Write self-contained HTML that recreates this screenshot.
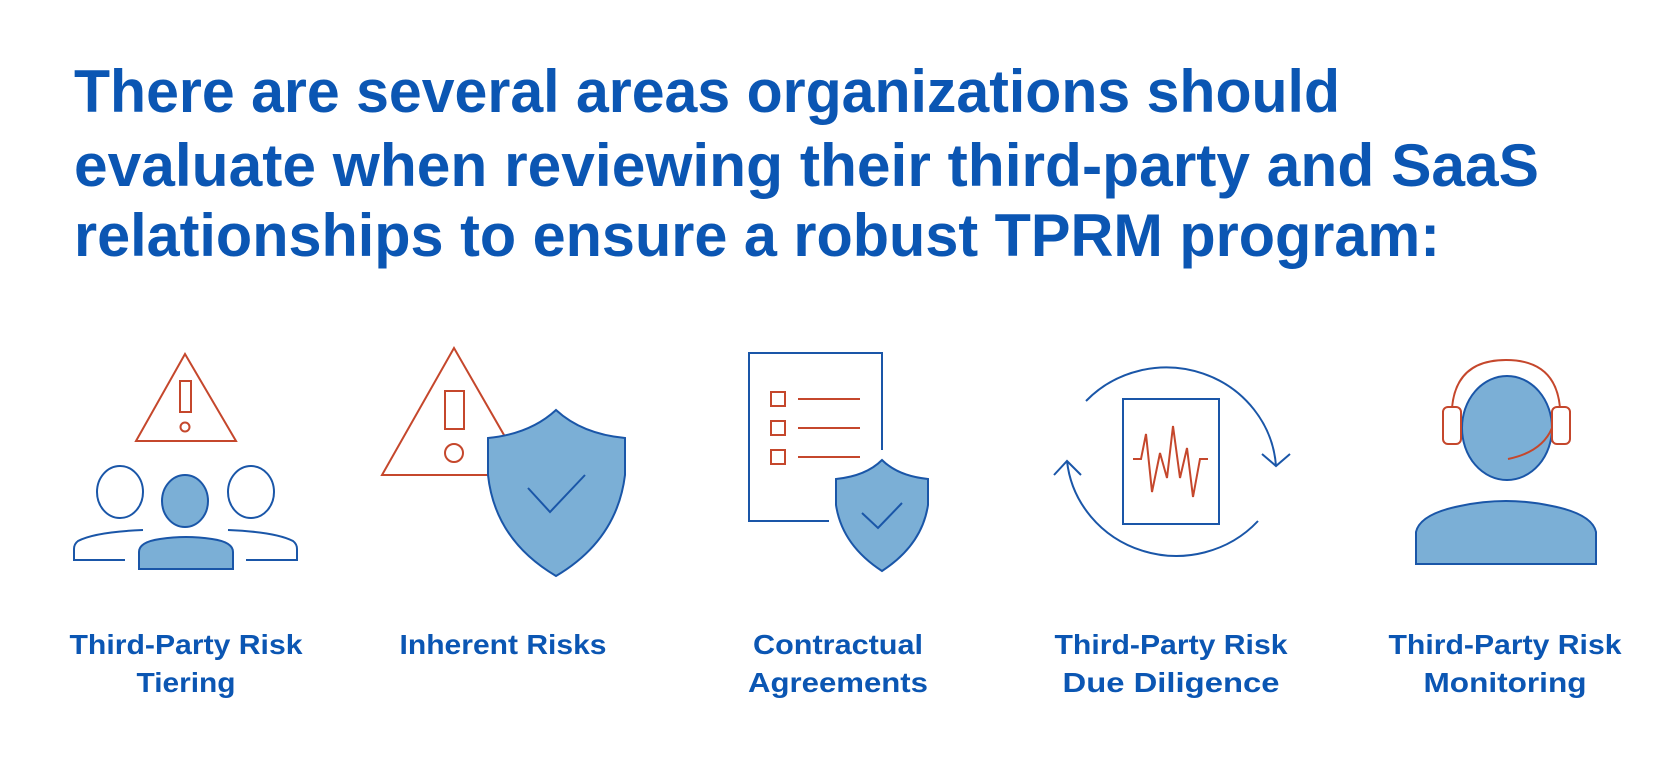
<!DOCTYPE html>
<html><head><meta charset="utf-8"><style>
html,body{margin:0;padding:0;background:#fff;}
svg{display:block;}
text{font-family:"Liberation Sans",Arial,sans-serif;font-weight:bold;fill:#0b56b3;}
</style></head><body>
<svg width="1670" height="779" viewBox="0 0 1670 779" xmlns="http://www.w3.org/2000/svg">
<rect width="1670" height="779" fill="#fff"/>
<text x="74" y="112" font-size="60" textLength="1266" lengthAdjust="spacingAndGlyphs">There are several areas organizations should</text>
<text x="74" y="186" font-size="60" textLength="1465" lengthAdjust="spacingAndGlyphs">evaluate when reviewing their third-party and SaaS</text>
<text x="74" y="256" font-size="60" textLength="1366" lengthAdjust="spacingAndGlyphs">relationships to ensure a robust TPRM program:</text>

<g fill="none" stroke-width="2">
<!-- icon1 -->
<polygon points="185,354 136,441 236,441" stroke="#c5472c"/>
<rect x="180" y="381" width="11" height="31" stroke="#c5472c"/>
<circle cx="185" cy="427" r="4.5" stroke="#c5472c"/>
<ellipse cx="120" cy="492" rx="23" ry="26" stroke="#1a56a8"/>
<ellipse cx="251" cy="492" rx="23" ry="26" stroke="#1a56a8"/>
<ellipse cx="185" cy="501" rx="23" ry="26" stroke="#1a56a8" fill="#7bafd6"/>
<path d="M143,530 Q95,532 78,541 Q74,544 74,549 V560 H125" stroke="#1a56a8"/>
<path d="M228,530 Q276,532 293,541 Q297,544 297,549 V560 H246" stroke="#1a56a8"/>
<path d="M139,569 V552 Q139,542 160,539 Q186,535 212,539 Q233,542 233,552 V569 Z" stroke="#1a56a8" fill="#7bafd6"/>
<!-- icon2 -->
<polygon points="454,348 382,475 527,475" stroke="#c5472c"/>
<rect x="445" y="391" width="19" height="38" stroke="#c5472c"/>
<circle cx="454" cy="453" r="9" stroke="#c5472c"/>
<path d="M556,410 Q530,434 488,438 V475 Q495,540 556,576 Q617,540 625,475 V438 Q582,434 556,410 Z" stroke="#1a56a8" fill="#7bafd6"/>
<polyline points="528,488 550,512 585,475" stroke="#1a56a8"/>
<!-- icon3 -->
<path d="M882,450 V353 H749 V521 H829" stroke="#1a56a8"/>
<rect x="771" y="392" width="14" height="14" stroke="#c5472c"/>
<rect x="771" y="421" width="14" height="14" stroke="#c5472c"/>
<rect x="771" y="450" width="14" height="14" stroke="#c5472c"/>
<line x1="798" y1="399" x2="860" y2="399" stroke="#c5472c"/>
<line x1="798" y1="428" x2="860" y2="428" stroke="#c5472c"/>
<line x1="798" y1="457" x2="860" y2="457" stroke="#c5472c"/>
<path d="M882,460 Q866,476 836,479 V505 Q842,545 882,571 Q922,545 928,505 V479 Q898,476 882,460 Z" stroke="#1a56a8" fill="#7bafd6"/>
<polyline points="862,513 878,528 902,503" stroke="#1a56a8"/>
<!-- icon4 -->
<rect x="1123" y="399" width="96" height="125" stroke="#1a56a8"/>
<polyline points="1133,459 1141,459 1146,434 1152,492 1160,453 1167,478 1173,426 1180,478 1187,448 1193,497 1200,459 1208,459" stroke="#c5472c"/>
<path d="M1086,401 A110,106 0 0 1 1276,466" stroke="#1a56a8"/>
<polyline points="1262,454 1276,466 1290,454" stroke="#1a56a8"/>
<path d="M1258,521 A110,106 0 0 1 1067,461" stroke="#1a56a8"/>
<polyline points="1054,475 1067,461 1081,475" stroke="#1a56a8"/>
<!-- icon5 -->
<path d="M1416,564 V532 Q1420,514 1460,506 Q1506,496 1552,506 Q1592,514 1596,532 V564 Z" stroke="#1a56a8" fill="#7bafd6"/>
<ellipse cx="1507" cy="428" rx="45" ry="52" stroke="#1a56a8" fill="#7bafd6"/>
<path d="M1452,408 Q1456,360 1506,360 Q1556,360 1560,408" stroke="#c5472c"/>
<rect x="1443" y="407" width="18" height="37" rx="5" stroke="#c5472c" fill="#fff"/>
<rect x="1552" y="407" width="18" height="37" rx="5" stroke="#c5472c" fill="#fff"/>
<path d="M1552,428 Q1542,452 1508,459" stroke="#c5472c"/>
</g>

<g font-size="28" text-anchor="middle" lengthAdjust="spacingAndGlyphs">
<text x="186" y="654" textLength="233" lengthAdjust="spacingAndGlyphs">Third-Party Risk</text>
<text x="186" y="692" textLength="99" lengthAdjust="spacingAndGlyphs">Tiering</text>
<text x="503" y="654" textLength="207" lengthAdjust="spacingAndGlyphs">Inherent Risks</text>
<text x="838" y="654" textLength="170" lengthAdjust="spacingAndGlyphs">Contractual</text>
<text x="838" y="692" textLength="180" lengthAdjust="spacingAndGlyphs">Agreements</text>
<text x="1171" y="654" textLength="233" lengthAdjust="spacingAndGlyphs">Third-Party Risk</text>
<text x="1171" y="692" textLength="217" lengthAdjust="spacingAndGlyphs">Due Diligence</text>
<text x="1505" y="654" textLength="233" lengthAdjust="spacingAndGlyphs">Third-Party Risk</text>
<text x="1505" y="692" textLength="163" lengthAdjust="spacingAndGlyphs">Monitoring</text>
</g>
</svg>
</body></html>
